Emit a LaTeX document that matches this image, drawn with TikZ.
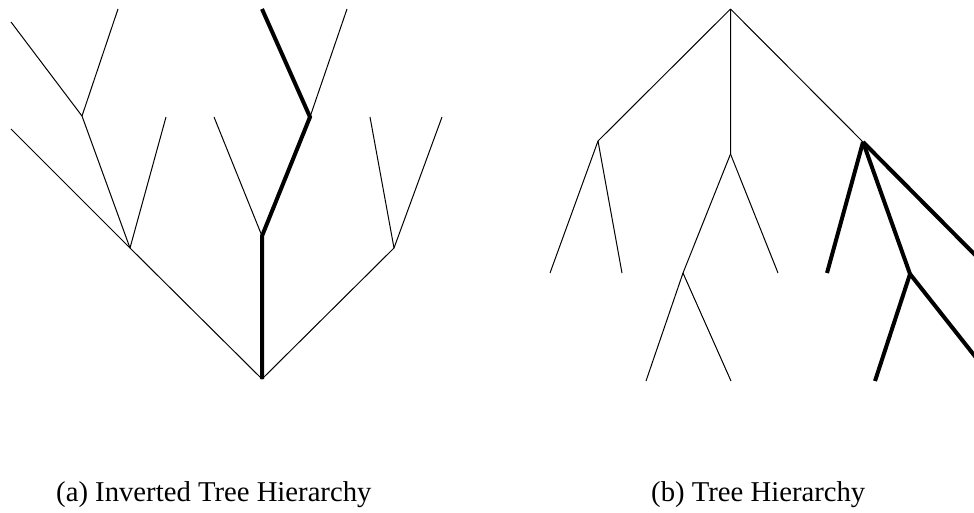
\documentclass[tikz,border=0pt]{standalone}
\usepackage{fontspec}
\setmainfont{Liberation Serif}
\begin{document}
\begin{tikzpicture}[x=1pt,y=-1pt,
  thinline/.style={line width=1pt},
  thickline/.style={line width=4pt},
  caption/.style={anchor=base west,inner sep=0pt,font=\fontsize{28.7}{32}\selectfont}]
\useasboundingbox (0,0) rectangle (974,512);
\clip (0,0) rectangle (974,512);
% ---- (a) inverted tree ----
\coordinate (R) at (262,379);
\coordinate (A) at (130,248);
\coordinate (A0) at (11,129);
\coordinate (B) at (82,116);
\coordinate (B1) at (11,22);
\coordinate (B2) at (118,9);
\coordinate (A2) at (166,117);
\coordinate (C) at (262,236);
\coordinate (C1) at (214,117);
\coordinate (D) at (310,117);
\coordinate (D1) at (262,9);
\coordinate (D2) at (347,9);
\coordinate (E) at (394,248);
\coordinate (E1) at (370,117);
\coordinate (E2) at (442,117);
\draw[thinline] (R) -- (A) -- (A0);
\draw[thinline] (A) -- (B) -- (B1);
\draw[thinline] (B) -- (B2);
\draw[thinline] (A) -- (A2);
\draw[thinline] (C) -- (C1);
\draw[thinline] (D) -- (D2);
\draw[thinline] (R) -- (E) -- (E1);
\draw[thinline] (E) -- (E2);
\draw[thickline] (R) -- (C) -- (D) -- (D1);
% ---- (b) tree ----
\coordinate (P) at (730.5,9);
\coordinate (Q) at (598,141);
\coordinate (Q1) at (550,273);
\coordinate (Q2) at (622,273);
\coordinate (M) at (730.5,154);
\coordinate (N) at (683,273);
\coordinate (M2) at (778,273);
\coordinate (N1) at (646,381);
\coordinate (N2) at (731,381);
\coordinate (S) at (863,142);
\coordinate (S1) at (827,273);
\coordinate (S3) at (1000,280);
\coordinate (T) at (910,274);
\coordinate (T1) at (875,381);
\coordinate (T2) at (1000,388);
\draw[thinline] (P) -- (Q) -- (Q1);
\draw[thinline] (Q) -- (Q2);
\draw[thinline] (P) -- (M) -- (N) -- (N1);
\draw[thinline] (N) -- (N2);
\draw[thinline] (M) -- (M2);
\draw[thinline] (P) -- (S);
\draw[thickline] (S) -- (S1);
\draw[thickline] (S) -- (T) -- (T1);
\draw[thickline] (T) -- (T2);
\draw[thickline] (S) -- (S3);
% ---- captions ----
\node[caption] (capa) at (56,501) {(a) Inverted Tree Hierarchy};
\node[caption] (capb) at (651,501) {(b) Tree Hierarchy};
\end{tikzpicture}
\end{document}
